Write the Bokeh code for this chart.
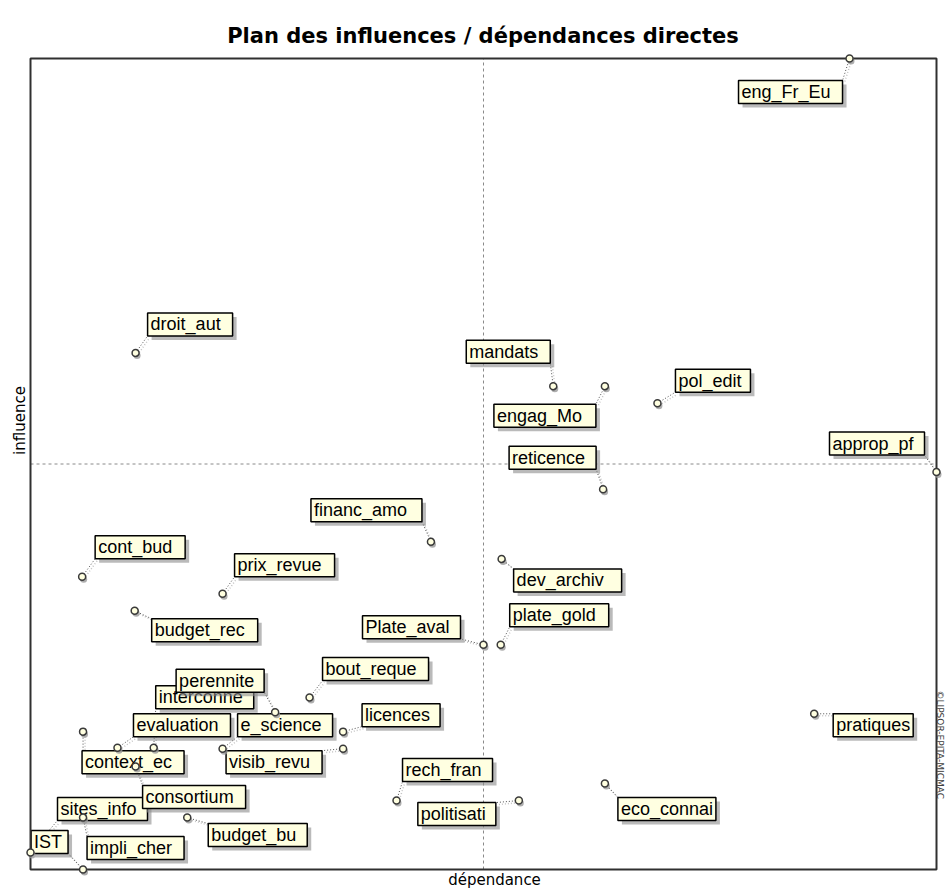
import math
from bokeh.plotting import figure
from bokeh.models import Range1d, Label
from bokeh.core.properties import value
from bokeh.embed import file_html
from bokeh.resources import INLINE

# ---------------- data ----------------
variables = ["eng_Fr_Eu", "droit_aut", "mandats", "engag_Mo", "pol_edit", "reticence",
             "approp_pf", "financ_amo", "cont_bud", "prix_revue", "budget_rec", "dev_archiv",
             "Plate_aval", "plate_gold", "bout_reque", "licences", "visib_revu", "e_science",
             "interconne", "perennite", "evaluation", "context_ec", "sites_info", "consortium",
             "impli_cher", "IST", "budget_bu", "rech_fran", "politisati", "eco_connai", "pratiques"]
dependance = [90.4, 11.6, 57.7, 63.4, 69.2, 63.2,
              100.0, 44.2, 5.7, 21.2, 11.5, 52.0,
              50.0, 51.9, 30.8, 34.5, 34.5, 21.2,
              13.6, 27.0, 9.6, 5.8, 0.0, 11.6,
              5.8, 5.8, 17.3, 40.4, 53.9, 63.4, 86.5]
influence = [100.0, 63.7, 59.6, 59.6, 57.5, 46.9,
             49.0, 40.4, 36.1, 34.0, 31.9, 38.3,
             27.7, 27.7, 21.2, 17.0, 14.9, 14.9,
             15.0, 19.4, 15.0, 17.0, 2.1, 12.7,
             6.4, 0.0, 6.4, 8.5, 8.5, 10.6, 19.2]

title_text = "Plan des influences / dépendances directes"
x_title = "dépendance"
y_title = "influence"
watermark = "©LIPSOR-EPITA-MICMAC"

# ---------------- layout (label boxes: offset from point in px, width in px) ----------------
label_layout = [(-111, 22, 104), (12, -40, 85), (-87, -46, 84), (-111, 18, 102), (18, -34, 75),
                (-94, -43, 87), (-107, -40, 95), (-120, -43, 111), (13, -41, 90), (12, -40, 100),
                (17, 8, 106), (12, 10, 108), (-121, -29, 98), (9, -41, 99), (13, -40, 106),
                (19, -28, 78), (-117, 2, 96), (15, -35, 95), (2, -62, 98), (-99, -43, 88),
                (16, -34, 97), (-1, 19, 102), (27, -55, 90), (7, 19, 103), (4, 19, 97),
                (-52, -39, 37), (21, 6, 99), (6, -42, 90), (-101, 2, 78), (13, 14, 98),
                (19, 0, 80)]
BOX_H = 23

DEP_MIN, DEP_MAX = 0.0, 100.0
INF_MIN, INF_MAX = 0.0, 100.0
W, H = 945, 889
FL, FR, FT, FB = 30, 936, 58, 869     # visible frame in page px
PXX = (FR - FL) / (DEP_MAX - DEP_MIN)
PXY = (FB - FT) / (INF_MAX - INF_MIN)

p = figure(width=W, height=H, output_backend="svg", toolbar_location=None,
           x_range=Range1d(DEP_MIN - FL / PXX, DEP_MAX + (W - FR) / PXX),
           y_range=Range1d(INF_MIN - (H - FB) / PXY, INF_MAX + FT / PXY),
           min_border_left=0, min_border_right=0, min_border_top=0, min_border_bottom=0)
p.axis.visible = False
p.grid.visible = False
p.outline_line_color = None
p.background_fill_color = "white"
p.border_fill_color = "white"


def px_x(px):   # page px -> data
    return DEP_MIN + (px - FL) / PXX


def px_y(py):
    return INF_MAX - (py - FT) / PXY


mid_x = (DEP_MIN + DEP_MAX) / 2
mid_y = (INF_MIN + INF_MAX) / 2

# dashed axes through the middle
p.segment(x0=[mid_x, DEP_MIN], y0=[INF_MIN, mid_y], x1=[mid_x, DEP_MAX], y1=[INF_MAX, mid_y],
          line_color="#8a8a8a", line_width=1, line_dash="3 3")

# compute boxes and leaders
boxes = []
lx0, ly0, lx1, ly1 = [], [], [], []
for name, d, i, (dx, dy, w) in zip(variables, dependance, influence, label_layout):
    left = d + dx / PXX
    right = left + w / PXX
    top = i - dy / PXY
    bottom = top - BOX_H / PXY
    boxes.append((name, left, right, top, bottom))
    cx = min(max(d, left), right)
    cy = min(max(i, bottom), top)
    lx0.append(d); ly0.append(i); lx1.append(cx); ly1.append(cy)

# leader shadows then leaders
sx = 2 / PXX
sy = 2 / PXY
p.segment(x0=[v + sx for v in lx0], y0=[v - sy for v in ly0],
          x1=[v + sx for v in lx1], y1=[v - sy for v in ly1],
          line_color="#c4c4c4", line_width=1.5, line_dash="1 2")
p.segment(x0=lx0, y0=ly0, x1=lx1, y1=ly1,
          line_color="#505050", line_width=1, line_dash="1 2")

# label boxes with shadow, text
shx = 4 / PXX
shy = 4 / PXY
for name, left, right, top, bottom in boxes:
    p.quad(left=[left + shx], right=[right + shx], top=[top - shy], bottom=[bottom - shy],
           fill_color="#8c8c8c", fill_alpha=0.6, line_color=None)
    p.quad(left=[left], right=[right], top=[top], bottom=[bottom],
           fill_color="#FFFFE1", line_color="#000000", line_width=1.5)
    p.text(x=[left + 3 / PXX], y=[(top + bottom) / 2], text=[name],
           text_font=value("Liberation Sans"), text_font_size=value("18px"),
           text_color="#000000", text_align="left", text_baseline="middle")

# visible frame
p.quad(left=[DEP_MIN], right=[DEP_MAX], top=[INF_MAX], bottom=[INF_MIN],
       fill_color=None, line_color="#303030", line_width=2)

# point markers with a small shadow
p.scatter(x=[v + 1.5 / PXX for v in dependance], y=[v - 2.5 / PXY for v in influence],
          size=7, fill_color="#9a9a9a", fill_alpha=0.8, line_color=None)
p.scatter(x=dependance, y=influence, size=7, fill_color="#FFFFE0",
          line_color="#3a3a3a", line_width=1.5)

# texts
p.add_layout(Label(x=px_x(482.5), y=px_y(35), text=title_text,
                   text_font="DejaVu Sans", text_font_style="bold", text_font_size="21px",
                   text_align="center", text_baseline="alphabetic", text_color="#000000"))
p.add_layout(Label(x=px_x(494), y=px_y(879), text=x_title,
                   text_font="DejaVu Sans", text_font_size="15px",
                   text_align="center", text_baseline="middle", text_color="#000000"))
p.add_layout(Label(x=px_x(19), y=px_y(420), text=y_title, angle=math.pi / 2,
                   text_font="DejaVu Sans", text_font_size="15px",
                   text_align="center", text_baseline="middle", text_color="#000000"))
p.add_layout(Label(x=px_x(939.5), y=px_y(690), text=watermark, angle=-math.pi / 2,
                   text_font="DejaVu Sans", text_font_size="9px",
                   text_align="left", text_baseline="middle", text_color="#404040"))

open("out.html", "w").write(file_html(p, INLINE))
